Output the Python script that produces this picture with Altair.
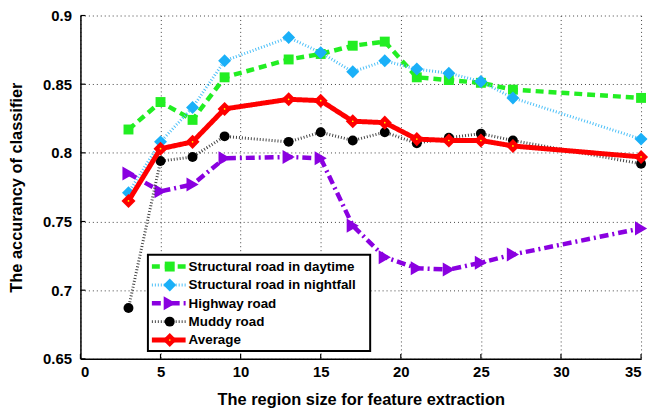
import altair as alt
import pandas as pd

region = [3, 5, 7, 9, 13, 15, 17, 19, 21, 23, 25, 27, 35]
daytime = [0.817, 0.837, 0.824, 0.855, 0.868, 0.872, 0.878, 0.881, 0.855, 0.853, 0.851, 0.846, 0.840]
nightfall = [0.771, 0.808, 0.833, 0.867, 0.884, 0.873, 0.859, 0.867, 0.861, 0.858, 0.852, 0.840, 0.810]
highway = [0.785, 0.772, 0.777, 0.796, 0.797, 0.796, 0.747, 0.724, 0.716, 0.715, 0.720, 0.726, 0.745]
muddy = [0.687, 0.794, 0.797, 0.812, 0.808, 0.815, 0.809, 0.815, 0.807, 0.811, 0.814, 0.809, 0.792]
average = [0.765, 0.803, 0.808, 0.832, 0.839, 0.838, 0.823, 0.822, 0.810, 0.809, 0.809, 0.805, 0.797]

names = ["Structural road in daytime", "Structural road in nightfall", "Highway road", "Muddy road", "Average"]
series_values = [daytime, nightfall, highway, muddy, average]

x_ticks = [0, 5, 10, 15, 20, 25, 30, 35]
y_ticks = [0.65, 0.7, 0.75, 0.8, 0.85, 0.9]

FONT = "Liberation Sans"
W, H = 565, 346

styles = [
    dict(color="#22ee22", dash=[8, 5], width=4.5, shape="square", size=100, lcolor="#22ee22"),
    dict(color="#1ab0f8", dash=[1, 2], width=3, shape="diamond", size=170, lcolor="#4cc0f8"),
    dict(color="#8a00e0", dash=[9, 4, 2, 4], width=4.5, shape="triangle-right", size=200, lcolor="#8a00e0"),
    dict(color="#000000", dash=[1, 2], width=3, shape="circle", size=100, lcolor="#444444"),
    dict(color="#ff0000", dash=[1, 0], width=5, shape="diamond", size=200, lcolor="#ff0000"),
]

xs = alt.Scale(domain=[0, 35], nice=False, zero=False)
ys = alt.Scale(domain=[0.65, 0.9], nice=False, zero=False)

layers = []

axis_common = dict(
    grid=True, gridDash=[1, 3], gridColor="#444444", gridWidth=1, gridOpacity=1,
    domainColor="#000000", domainWidth=1.5, ticks=False, tickSize=0,
    labelFont=FONT, labelFontWeight="bold", labelFontSize=15, labelColor="#000000",
    titleFont=FONT, titleFontWeight="bold", titleFontSize=16.5, titleColor="#000000",
)

for i, (name, vals) in enumerate(zip(names, series_values)):
    st = styles[i]
    df = pd.DataFrame({"x": region, "y": vals, "series": name})
    if i == 0:
        enc_x = alt.X("x:Q", scale=xs, axis=alt.Axis(values=x_ticks, title="The region size for feature extraction",
                                                     labelPadding=6, titlePadding=12, **axis_common))
        enc_y = alt.Y("y:Q", scale=ys, axis=alt.Axis(values=y_ticks, format="~g", title="The accurancy of classifier",
                                                     labelPadding=9, titlePadding=18, **axis_common))
    else:
        enc_x = alt.X("x:Q", scale=xs)
        enc_y = alt.Y("y:Q", scale=ys)
    line = alt.Chart(df).mark_line(color=st["lcolor"], strokeWidth=st["width"], strokeDash=st["dash"]).encode(x=enc_x, y=enc_y)
    pts = alt.Chart(df).mark_point(shape=st["shape"], size=st["size"], filled=True, color=st["color"], opacity=1).encode(
        x=alt.X("x:Q", scale=xs), y=alt.Y("y:Q", scale=ys))
    layers += [line, pts]
    if i == 4:
        dots = alt.Chart(df).mark_point(shape="circle", size=3, filled=True, color="#ffff00", opacity=1).encode(
            x=alt.X("x:Q", scale=xs), y=alt.Y("y:Q", scale=ys))
        layers.append(dots)

# inward tick marks
xt = pd.DataFrame({"t": x_ticks})
yt = pd.DataFrame({"t": y_ticks})
layers.append(alt.Chart(xt).mark_rule(color="#000000", strokeWidth=1.2).encode(
    x=alt.X("t:Q", scale=xs), y=alt.value(H), y2=alt.value(H - 5)))
layers.append(alt.Chart(yt).mark_rule(color="#000000", strokeWidth=1.2).encode(
    y=alt.Y("t:Q", scale=ys), x=alt.value(0), x2=alt.value(5)))

# legend
lx0, lx1, ly0, ly1 = 68, 292, 241, 338
row0, step = 253, 18.5
layers.append(alt.Chart(pd.DataFrame({"name": names[:1]})).mark_rect(fill="white", stroke="#000000", strokeWidth=2).encode(
    x=alt.value(lx0), x2=alt.value(lx1), y=alt.value(ly0), y2=alt.value(ly1)))
for i, name in enumerate(names):
    st = styles[i]
    d = pd.DataFrame({"name": [name]})
    yy = row0 + step * i
    layers.append(alt.Chart(d).mark_rule(color=st["lcolor"], strokeWidth=st["width"], strokeDash=st["dash"]).encode(
        x=alt.value(72), x2=alt.value(106), y=alt.value(yy)))
    layers.append(alt.Chart(d).mark_point(shape=st["shape"], size=st["size"], filled=True, color=st["color"], opacity=1).encode(
        x=alt.value(90), y=alt.value(yy)))
    if i == 4:
        layers.append(alt.Chart(d).mark_point(shape="circle", size=3, filled=True, color="#ffff00", opacity=1).encode(
            x=alt.value(90), y=alt.value(yy)))
    layers.append(alt.Chart(d).mark_text(align="left", baseline="middle", font=FONT, fontWeight="bold",
                                         fontSize=13.5, color="#000000").encode(
        x=alt.value(109), y=alt.value(yy + 0.5), text="name:N"))

chart = alt.layer(*layers).properties(
    width=W, height=H,
    autosize=alt.AutoSizeParams(type="none"),
    padding={"left": 73, "top": 6, "right": 8, "bottom": 52},
    background="white",
).configure_view(strokeOpacity=0)

chart.save("out.html", embed_options={"renderer": "svg", "actions": False})
